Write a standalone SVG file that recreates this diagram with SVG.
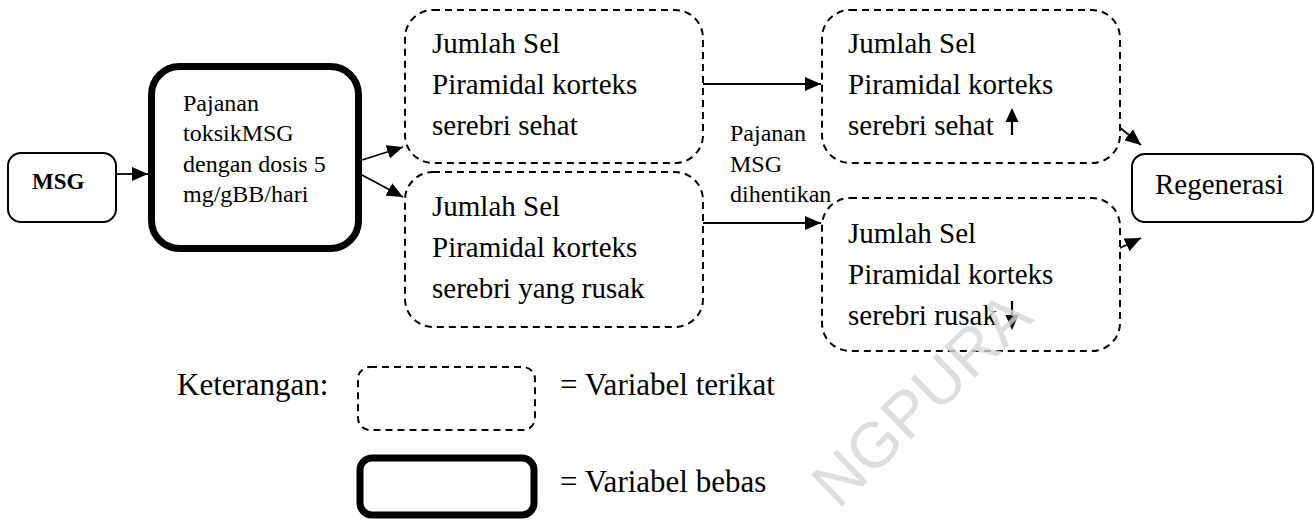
<svg xmlns="http://www.w3.org/2000/svg" width="1315" height="521" viewBox="0 0 1315 521">
<defs>
<style>
.t{font-family:"Liberation Serif","Times New Roman",serif;fill:#000}
.s{font-size:24px}
.m{font-size:29px}
.l{font-size:31px}
.solid{fill:#fff;stroke:#000;stroke-width:2}
.thick{fill:#fff;stroke:#000;stroke-width:7}
.dash{fill:#fff;stroke:#000;stroke-width:2;stroke-dasharray:7 5}
.c{fill:none;stroke:#000;stroke-width:1.8}
</style>
<marker id="ah" markerWidth="17" markerHeight="14" refX="16" refY="7" orient="auto" markerUnits="userSpaceOnUse">
<path d="M0,0 L16,7 L0,14 Z" fill="#000"/>
</marker>
</defs>
<rect width="1315" height="521" fill="#fff"/>
<g id="connectors">
<line class="c" x1="116" y1="174" x2="148" y2="174" marker-end="url(#ah)"/>
<line class="c" x1="362" y1="160" x2="403" y2="147" marker-end="url(#ah)"/>
<line class="c" x1="362" y1="175" x2="403" y2="197" marker-end="url(#ah)"/>
<line class="c" x1="703" y1="84" x2="821" y2="84" marker-end="url(#ah)"/>
<line class="c" x1="703" y1="223" x2="821" y2="223" marker-end="url(#ah)"/>
<line class="c" x1="1118" y1="126" x2="1141" y2="145" marker-end="url(#ah)"/>
<line class="c" x1="1120" y1="248" x2="1141" y2="238" marker-end="url(#ah)"/>
</g>
<g id="msg">
<rect class="solid" x="8" y="153" width="108" height="69" rx="13"/>
<text class="t" x="32" y="189" font-size="23" font-weight="bold">MSG</text>
</g>
<g id="pajanan">
<rect class="thick" x="151.5" y="66.5" width="207" height="182" rx="28"/>
<text class="t s"><tspan x="183" y="111">Pajanan</tspan><tspan x="183" y="141">toksikMSG</tspan><tspan x="183" y="172">dengan dosis 5</tspan><tspan x="183" y="202">mg/gBB/hari</tspan></text>
</g>
<g id="sehat1">
<rect class="dash" x="405" y="10" width="298" height="153" rx="28"/>
<text class="t m"><tspan x="432" y="53">Jumlah Sel</tspan><tspan x="432" y="94">Piramidal korteks</tspan><tspan x="432" y="135">serebri sehat</tspan></text>
</g>
<g id="rusak1">
<rect class="dash" x="405" y="172" width="298" height="155" rx="28"/>
<text class="t m"><tspan x="432" y="216">Jumlah Sel</tspan><tspan x="432" y="257">Piramidal korteks</tspan><tspan x="432" y="298">serebri yang rusak</tspan></text>
</g>
<g id="label-dihentikan">
<text class="t s"><tspan x="730" y="141">Pajanan</tspan><tspan x="730" y="172">MSG</tspan><tspan x="730" y="202">dihentikan</tspan></text>
</g>
<g id="sehat2">
<rect class="dash" x="822" y="10" width="298" height="153" rx="28"/>
<text class="t m"><tspan x="848" y="53">Jumlah Sel</tspan><tspan x="848" y="94">Piramidal korteks</tspan><tspan x="848" y="135">serebri sehat</tspan></text>
<line x1="1012" y1="135" x2="1012" y2="120" stroke="#000" stroke-width="2.2"/>
<path d="M1005.5,122 L1012,108 L1018.5,122 Z" fill="#000"/>
</g>
<g id="rusak2">
<rect class="dash" x="822" y="198" width="298" height="153" rx="28"/>
<text class="t m"><tspan x="848" y="243">Jumlah Sel</tspan><tspan x="848" y="284">Piramidal korteks</tspan><tspan x="848" y="325">serebri rusak</tspan></text>
<line x1="1012" y1="301" x2="1012" y2="318" stroke="#000" stroke-width="2.2"/>
<path d="M1005.5,315 L1012,330 L1018.5,315 Z" fill="#000"/>
</g>
<g id="regenerasi">
<rect class="solid" x="1132" y="154" width="181" height="68" rx="13"/>
<text class="t m" x="1155" y="194">Regenerasi</text>
</g>
<g id="legend">
<text class="t l" x="177" y="395">Keterangan:</text>
<rect class="dash" x="358" y="367" width="177" height="63" rx="12"/>
<text class="t l" x="560" y="395">= Variabel terikat</text>
<rect class="thick" x="360" y="458" width="174" height="57" rx="12"/>
<text class="t l" x="560" y="492">= Variabel bebas</text>
</g>
<text x="838" y="510" transform="rotate(-44 838 510)" font-family="Liberation Sans, Arial, sans-serif" font-size="64" fill="#d6d6d6" fill-opacity="0.8">NGPURA</text>
</svg>
